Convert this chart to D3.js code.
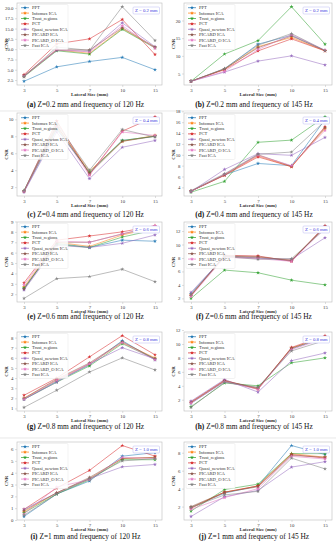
<!DOCTYPE html>
<html>
<head>
<meta charset="utf-8">
<script src="https://cdn.jsdelivr.net/npm/d3@7"></script>
<style>
  body { margin: 0; background: #fff; }
  svg { display: block; }
</style>
</head>
<body>
<script>
const methods = ['PPT', 'Infomax ICA', 'Trust_regions', 'PCT', 'Quasi_newton ICA', 'PICARD ICA', 'PICARD_O ICA', 'Fast ICA'];
const sizes = ['3', '5', '7', '10', '15'];

// CNR values, one row per method (same order as methods)
const cnrA = [
  [2.2, 5.7, 7.0, 8.0, 5.0], [3.4, 9.8, 9.0, 15.0, 10.4], [3.3, 9.6, 8.8, 14.8, 10.3], [3.8, 11.3, 12.5, 17.2, 8.7],
  [3.5, 9.7, 9.5, 16.4, 10.6], [3.6, 9.9, 9.8, 15.2, 10.5], [3.4, 10.0, 9.3, 15.7, 10.2], [3.3, 10.5, 9.7, 20.3, 12.1]
];
const cnrB = [
  [2.8, 6.3, 13.3, 15.8, 11.5], [2.8, 6.2, 12.6, 15.2, 11.4], [2.8, 10.5, 14.3, 23.9, 13.3], [2.8, 6.1, 11.4, 14.8, 11.4],
  [2.8, 5.4, 8.5, 10.0, 7.4], [2.8, 6.3, 12.3, 15.6, 11.5], [2.8, 5.6, 11.8, 16.0, 11.6], [2.8, 6.4, 13.0, 16.3, 11.5]
];
const cnrC = [
  [1.5, 8.8, 3.8, 7.5, 8.0], [1.5, 9.2, 3.9, 7.4, 8.1], [1.6, 9.0, 3.7, 7.5, 8.0], [1.5, 9.8, 3.5, 8.6, 10.3],
  [1.4, 8.5, 3.0, 6.7, 7.5], [1.5, 9.3, 3.6, 7.4, 8.0], [1.5, 9.1, 3.4, 8.5, 8.1], [1.6, 9.5, 4.0, 8.8, 7.9]
];
const cnrD = [
  [3.3, 6.3, 8.4, 8.0, 16.5], [3.3, 6.3, 9.8, 7.8, 14.8], [3.1, 5.1, 12.3, 12.7, 17.0], [3.3, 6.2, 9.6, 7.8, 15.2],
  [3.2, 7.3, 10.2, 9.9, 13.2], [3.3, 6.3, 10.0, 7.9, 15.0], [3.3, 6.4, 9.9, 8.0, 14.5], [3.4, 6.5, 10.1, 10.5, 16.2]
];
const cnrE = [
  [2.5, 6.9, 6.5, 7.2, 7.1], [2.7, 7.0, 6.6, 7.7, 8.4], [2.6, 6.8, 6.5, 7.5, 8.2], [3.1, 7.2, 7.6, 8.0, 8.6],
  [2.4, 6.7, 6.5, 6.9, 7.7], [2.5, 7.0, 7.0, 7.8, 8.5], [2.9, 7.1, 7.0, 7.8, 8.6], [1.6, 3.5, 3.7, 4.4, 3.2]
];
const cnrF = [
  [2.7, 8.3, 8.0, 7.6, 12.7], [2.5, 8.2, 8.1, 7.7, 12.6], [2.0, 6.2, 5.8, 4.7, 4.0], [2.4, 8.4, 8.3, 7.5, 12.8],
  [2.9, 8.2, 8.0, 7.8, 11.0], [2.4, 8.3, 8.2, 7.6, 12.6], [2.3, 8.1, 7.9, 7.5, 12.4], [2.6, 8.2, 7.8, 7.9, 12.3]
];
const cnrG = [
  [1.9, 3.7, 5.3, 7.7, 5.8], [2.0, 3.8, 5.4, 7.5, 6.0], [1.9, 3.6, 5.2, 7.4, 5.9], [2.3, 4.0, 6.1, 8.2, 6.3],
  [1.9, 3.6, 5.4, 7.0, 5.9], [2.0, 3.9, 5.5, 7.6, 5.9], [1.9, 3.8, 5.4, 7.5, 5.8], [1.1, 2.8, 4.6, 6.0, 4.8]
];
const cnrH = [
  [1.5, 4.6, 3.6, 9.3, 10.9], [1.6, 4.7, 3.6, 9.4, 11.0], [1.0, 4.4, 4.0, 7.3, 8.0], [1.7, 4.8, 3.5, 9.5, 11.2],
  [1.8, 4.9, 3.1, 7.6, 8.7], [1.6, 4.7, 3.7, 9.4, 11.0], [1.5, 4.6, 3.5, 9.2, 10.8], [0.9, 4.5, 3.8, 9.0, 10.5]
];
const cnrI = [
  [0.3, 2.2, 3.3, 5.4, 5.7], [0.7, 2.3, 3.5, 5.2, 5.3], [0.6, 2.2, 3.4, 5.1, 5.1], [0.9, 2.7, 4.2, 6.3, 5.4],
  [0.9, 2.3, 3.5, 4.5, 4.7], [0.8, 2.3, 3.6, 5.2, 5.3], [0.5, 2.8, 3.4, 5.3, 5.2], [0.4, 2.2, 3.5, 5.0, 5.2]
];
const cnrJ = [
  [1.9, 3.5, 4.3, 8.8, 7.8], [1.9, 3.6, 4.3, 7.9, 7.5], [1.5, 3.9, 4.5, 7.9, 7.9], [1.8, 3.6, 4.3, 7.8, 7.4],
  [0.9, 3.1, 3.8, 6.4, 7.0], [2.0, 3.6, 4.2, 7.7, 7.5], [1.7, 3.0, 4.0, 7.6, 7.3], [1.9, 3.3, 3.7, 7.4, 6.2]
];

const yTicksA = [2.5, 5.0, 7.5, 10.0, 12.5, 15.0, 17.5, 20.0];
const yTicksB = [5, 10, 15, 20];
const yTicksC = [2, 4, 6, 8, 10];
const yTicksD = [4, 6, 8, 10, 12, 14, 16, 18];
const yTicksE = [2, 3, 4, 5, 6, 7, 8, 9];
const yTicksF = [2, 4, 6, 8, 10, 12];
const yTicksG = [1, 2, 3, 4, 5, 6, 7, 8];
const yTicksH = [2, 4, 6, 8, 10, 12];
const yTicksI = [0, 1, 2, 3, 4, 5, 6];
const yTicksJ = [2, 4, 6, 8];

const letters = ['a', 'b', 'c', 'd', 'e', 'f', 'g', 'h', 'i', 'j'];
const depths = ['0.2', '0.2', '0.4', '0.4', '0.6', '0.6', '0.8', '0.8', '1', '1'];
const freqs = ['120', '145', '120', '145', '120', '145', '120', '145', '120', '145'];
const zLabels = ['0.2', '0.2', '0.4', '0.4', '0.6', '0.6', '0.8', '0.8', '1.0', '1.0'];

const allData = [cnrA, cnrB, cnrC, cnrD, cnrE, cnrF, cnrG, cnrH, cnrI, cnrJ];
const allTicks = [yTicksA, yTicksB, yTicksC, yTicksD, yTicksE, yTicksF, yTicksG, yTicksH, yTicksI, yTicksJ];

const colors = ['#1f77b4', '#ff7f0e', '#2ca02c', '#d62728', '#9467bd', '#8c564b', '#e377c2', '#7f7f7f'];

const W = 336, H = 550;
const cols = [[17, 162], [184, 332]];
const rowTop = [3, 113, 222, 332, 442];
const rowH = [82, 83, 80, 79, 78];
const capY = [107, 217, 319, 429, 539];
const serif = 'Liberation Serif';

const svg = d3.select('body').append('svg').attr('width', W).attr('height', H);

// faint rules between the figure rows
[111, 438].forEach(y => {
  svg.append('line').attr('x1', 0).attr('x2', W).attr('y1', y).attr('y2', y)
    .attr('stroke', '#d8d8d8').attr('stroke-width', 0.6);
});

allData.forEach((data, p) => {
  const r = Math.floor(p / 2), c = p % 2;
  const x0 = cols[c][0], x1 = cols[c][1];
  const y0 = rowTop[r], y1 = rowTop[r] + rowH[r];

  const x = d3.scalePoint().domain(sizes).range([x0 + 7, x1 - 7]);
  const ext = d3.extent(data.flat());
  const pad = (ext[1] - ext[0]) * 0.05;
  const y = d3.scaleLinear().domain([ext[0] - pad, ext[1] + pad]).range([y1, y0]);

  const g = svg.append('g');

  // frame
  g.append('rect').attr('x', x0).attr('y', y0).attr('width', x1 - x0).attr('height', y1 - y0)
    .attr('fill', '#fff').attr('stroke', '#bdbdbd').attr('stroke-width', 0.6);

  const fmt = p === 0 ? d3.format('.1f') : d3.format('d');
  const yAxis = d3.axisLeft(y).tickValues(allTicks[p]).tickFormat(fmt).tickSize(2).tickPadding(1.5);
  const xAxis = d3.axisBottom(x).tickSize(2).tickPadding(1.5);

  const ya = g.append('g').attr('transform', `translate(${x0},0)`).call(yAxis);
  const xa = g.append('g').attr('transform', `translate(0,${y1})`).call(xAxis);
  [ya, xa].forEach(a => {
    a.select('.domain').remove();
    a.selectAll('line').attr('stroke', '#bdbdbd').attr('stroke-width', 0.5);
    a.selectAll('text').attr('font-family', serif).attr('font-size', 4.8).attr('fill', '#333');
  });

  // axis titles
  g.append('text').attr('x', (x0 + x1) / 2).attr('y', y1 + 10.5).attr('text-anchor', 'middle')
    .attr('font-family', serif).attr('font-weight', 'bold').attr('font-size', 4.8).attr('fill', '#333')
    .text('Lateral Size (mm)');
  g.append('text').attr('transform', `translate(${x0 - 9},${(y0 + y1) / 2}) rotate(-90)`)
    .attr('text-anchor', 'middle')
    .attr('font-family', serif).attr('font-weight', 'bold').attr('font-size', 4.8).attr('fill', '#333')
    .text('CNR');

  // series
  const line = d3.line().x((d, i) => x(sizes[i])).y(d => y(d));
  const star = d3.symbol().type(d3.symbolStar).size(5);
  data.forEach((vals, m) => {
    g.append('path').datum(vals).attr('d', line).attr('fill', 'none')
      .attr('stroke', colors[m]).attr('stroke-width', 0.7).attr('stroke-opacity', 0.75);
    g.selectAll(null).data(vals).enter().append('path')
      .attr('d', star).attr('transform', (d, i) => `translate(${x(sizes[i])},${y(d)})`)
      .attr('fill', colors[m]).attr('opacity', 0.9);
  });

  // legend
  const lg = g.append('g').attr('transform', `translate(${x0 + 2},${y0 + 1.5})`);
  lg.append('rect').attr('width', 49).attr('height', 45).attr('rx', 1.2)
    .attr('fill', '#fff').attr('fill-opacity', 0.85).attr('stroke', '#ddd').attr('stroke-width', 0.4);
  methods.forEach((name, m) => {
    const yy = 3.2 + m * 5.4;
    lg.append('line').attr('x1', 2).attr('x2', 10).attr('y1', yy).attr('y2', yy)
      .attr('stroke', colors[m]).attr('stroke-width', 0.7);
    lg.append('path').attr('d', star).attr('transform', `translate(6,${yy})`).attr('fill', colors[m]);
    lg.append('text').attr('x', 13).attr('y', yy + 1.5)
      .attr('font-family', serif).attr('font-size', 4.6).attr('fill', '#333').text(name);
  });

  // depth box
  const zt = `Z = ${zLabels[p]} mm`;
  const zg = g.append('g');
  zg.append('rect').attr('x', x1 - 29).attr('y', y0 + 4).attr('width', 26.5).attr('height', 7).attr('rx', 1)
    .attr('fill', '#fff').attr('stroke', '#b8b8f0').attr('stroke-width', 0.5);
  zg.append('text').attr('x', x1 - 15.75).attr('y', y0 + 9.3).attr('text-anchor', 'middle')
    .attr('font-family', serif).attr('font-size', 4.8).attr('fill', '#3a3ae0').text(zt);

  // caption
  const cap = svg.append('text').attr('x', (x0 + x1) / 2 - 4).attr('y', capY[r]).attr('text-anchor', 'middle')
    .attr('font-family', serif).attr('font-size', 7.4).attr('fill', '#111');
  cap.append('tspan').attr('font-weight', 'bold').text(`(${letters[p]}) `);
  cap.append('tspan').text(`Z=${depths[p]} mm and frequency of ${freqs[p]} Hz`);
});
</script>
</body>
</html>
